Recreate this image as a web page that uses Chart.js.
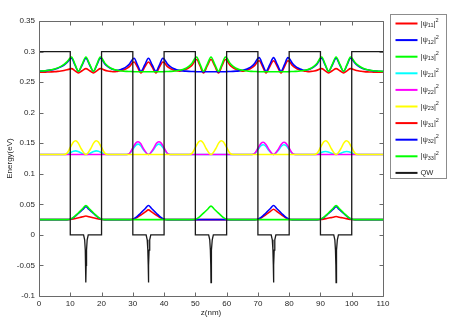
<!DOCTYPE html>
<html>
<head>
<meta charset="utf-8">
<script src="https://cdn.jsdelivr.net/npm/chart.js@4.4.0/dist/chart.umd.min.js"></script>
<style>
  html, body { margin: 0; padding: 0; background: #fff; }
  #wrap { width: 459px; height: 326px; }
</style>
</head>
<body>
<div id="wrap"><canvas id="psiChart" width="459" height="326"></canvas></div>
<script>
// axis ticks
const xTicks = [0, 10, 20, 30, 40, 50, 60, 70, 80, 90, 100, 110];
const xTickLabels = ['0', '10', '20', '30', '40', '50', '60', '70', '80', '90', '100', '110'];
const yTicks = [-0.1, -0.05, 0, 0.05, 0.1, 0.15, 0.2, 0.25, 0.3, 0.35];
const yTickLabels = ['-0.1', '-0.05', '0', '0.05', '0.1', '0.15', '0.2', '0.25', '0.3', '0.35'];

// legend names (subscripts of psi), last one is the potential
const stateSubs = ['11', '12', '13', '21', '22', '23', '31', '32', '33'];

// ground level z grid (nm)
const zLevel1 = [0,
  9, 10, 11, 12, 13, 14, 15, 16, 17, 18, 19, 20, 21,
  29, 30, 31, 32, 33, 34, 35, 36, 37, 38, 39, 40, 41,
  49, 50, 51, 52, 53, 54, 55, 56, 57, 58, 59, 60, 61,
  69, 70, 71, 72, 73, 74, 75, 76, 77, 78, 79, 80, 81,
  89, 90, 91, 92, 93, 94, 95, 96, 97, 98, 99, 100, 101,
  110];
const psi11 = [0.025,
  0.025, 0.0252, 0.0259, 0.0271, 0.0284, 0.0297, 0.031, 0.0297, 0.0284, 0.0271, 0.0259, 0.0252, 0.025,
  0.025, 0.0255, 0.0274, 0.0306, 0.0341, 0.0376, 0.041, 0.0376, 0.0341, 0.0306, 0.0274, 0.0255, 0.025,
  0.025, 0.025, 0.025, 0.025, 0.025, 0.025, 0.025, 0.025, 0.025, 0.025, 0.025, 0.025, 0.025,
  0.025, 0.0255, 0.0276, 0.031, 0.0347, 0.0384, 0.042, 0.0384, 0.0347, 0.031, 0.0276, 0.0255, 0.025,
  0.025, 0.0252, 0.0258, 0.0268, 0.0279, 0.029, 0.03, 0.029, 0.0279, 0.0268, 0.0258, 0.0252, 0.025,
  0.025];
const psi12 = [0.025,
  0.025, 0.0256, 0.0282, 0.0324, 0.037, 0.0416, 0.046, 0.0416, 0.037, 0.0324, 0.0282, 0.0256, 0.025,
  0.025, 0.0257, 0.0285, 0.0331, 0.0381, 0.0432, 0.048, 0.0432, 0.0381, 0.0331, 0.0285, 0.0257, 0.025,
  0.025, 0.025, 0.025, 0.025, 0.025, 0.025, 0.025, 0.025, 0.025, 0.025, 0.025, 0.025, 0.025,
  0.025, 0.0257, 0.0285, 0.0331, 0.0381, 0.0432, 0.048, 0.0432, 0.0381, 0.0331, 0.0285, 0.0257, 0.025,
  0.025, 0.0256, 0.0282, 0.0324, 0.037, 0.0416, 0.046, 0.0416, 0.037, 0.0324, 0.0282, 0.0256, 0.025,
  0.025];
const psi13 = [0.025,
  0.025, 0.0257, 0.0285, 0.0331, 0.0381, 0.0432, 0.048, 0.0432, 0.0381, 0.0331, 0.0285, 0.0257, 0.025,
  0.025, 0.025, 0.025, 0.025, 0.025, 0.025, 0.025, 0.025, 0.025, 0.025, 0.025, 0.025, 0.025,
  0.025, 0.0257, 0.0283, 0.0327, 0.0375, 0.0424, 0.047, 0.0424, 0.0375, 0.0327, 0.0283, 0.0257, 0.025,
  0.025, 0.025, 0.025, 0.025, 0.025, 0.025, 0.025, 0.025, 0.025, 0.025, 0.025, 0.025, 0.025,
  0.025, 0.0257, 0.0285, 0.0331, 0.0381, 0.0432, 0.048, 0.0432, 0.0381, 0.0331, 0.0285, 0.0257, 0.025,
  0.025];

// second level
const zLevel2 = [0,
  8, 9, 10, 11, 11.7, 12.5, 13.5, 15, 16.5, 17.5, 18.3, 19, 20, 21, 22,
  28, 29, 30, 31, 31.7, 32.5, 33.5, 35, 36.5, 37.5, 38.3, 39, 40, 41, 42,
  48, 49, 50, 51, 51.7, 52.5, 53.5, 55, 56.5, 57.5, 58.3, 59, 60, 61, 62,
  68, 69, 70, 71, 71.7, 72.5, 73.5, 75, 76.5, 77.5, 78.3, 79, 80, 81, 82,
  88, 89, 90, 91, 91.7, 92.5, 93.5, 95, 96.5, 97.5, 98.3, 99, 100, 101, 102,
  110];
const psi21 = [0.1315,
  0.1315, 0.1321, 0.1346, 0.1369, 0.1375, 0.1366, 0.134, 0.1315, 0.134, 0.1366, 0.1375, 0.1369, 0.1346, 0.1321, 0.1315,
  0.1315, 0.1333, 0.1402, 0.1469, 0.1485, 0.146, 0.1386, 0.1315, 0.1386, 0.146, 0.1485, 0.1469, 0.1402, 0.1333, 0.1315,
  0.1315, 0.1315, 0.1315, 0.1315, 0.1315, 0.1315, 0.1315, 0.1315, 0.1315, 0.1315, 0.1315, 0.1315, 0.1315, 0.1315, 0.1315,
  0.1315, 0.1332, 0.1397, 0.146, 0.1475, 0.1451, 0.1382, 0.1315, 0.1382, 0.1451, 0.1475, 0.146, 0.1397, 0.1332, 0.1315,
  0.1315, 0.132, 0.1341, 0.136, 0.1365, 0.1358, 0.1336, 0.1315, 0.1336, 0.1358, 0.1365, 0.136, 0.1341, 0.132, 0.1315,
  0.1315];
const psi22 = [0.1315,
  0.1315, 0.1315, 0.1315, 0.1315, 0.1315, 0.1315, 0.1315, 0.1315, 0.1315, 0.1315, 0.1315, 0.1315, 0.1315, 0.1315, 0.1315,
  0.1315, 0.1337, 0.1422, 0.1506, 0.1525, 0.1494, 0.1402, 0.1315, 0.1402, 0.1494, 0.1525, 0.1506, 0.1422, 0.1337, 0.1315,
  0.1315, 0.1315, 0.1315, 0.1315, 0.1315, 0.1315, 0.1315, 0.1315, 0.1315, 0.1315, 0.1315, 0.1315, 0.1315, 0.1315, 0.1315,
  0.1315, 0.1336, 0.1417, 0.1497, 0.1515, 0.1485, 0.1398, 0.1315, 0.1398, 0.1485, 0.1515, 0.1497, 0.1417, 0.1336, 0.1315,
  0.1315, 0.1315, 0.1315, 0.1315, 0.1315, 0.1315, 0.1315, 0.1315, 0.1315, 0.1315, 0.1315, 0.1315, 0.1315, 0.1315, 0.1315,
  0.1315];
const psi23 = [0.1315,
  0.1315, 0.1338, 0.143, 0.1519, 0.154, 0.1506, 0.1409, 0.1315, 0.1409, 0.1506, 0.154, 0.1519, 0.143, 0.1338, 0.1315,
  0.1315, 0.1315, 0.1315, 0.1315, 0.1315, 0.1315, 0.1315, 0.1315, 0.1315, 0.1315, 0.1315, 0.1315, 0.1315, 0.1315, 0.1315,
  0.1315, 0.1338, 0.143, 0.1519, 0.154, 0.1506, 0.1409, 0.1315, 0.1409, 0.1506, 0.154, 0.1519, 0.143, 0.1338, 0.1315,
  0.1315, 0.1315, 0.1315, 0.1315, 0.1315, 0.1315, 0.1315, 0.1315, 0.1315, 0.1315, 0.1315, 0.1315, 0.1315, 0.1315, 0.1315,
  0.1315, 0.1338, 0.143, 0.1519, 0.154, 0.1506, 0.1409, 0.1315, 0.1409, 0.1506, 0.154, 0.1519, 0.143, 0.1338, 0.1315,
  0.1315];

// third level (close to barrier top, tails leak into barriers)
const zLevel3 = [0, 1, 2, 3, 4, 5, 6, 7, 8, 9,
  10, 10.4, 11.5, 12.6, 13.8, 15, 16.2, 17.4, 18.5, 19.6,
  20, 21, 22, 23, 24, 25, 26, 27, 28, 29,
  30, 30.4, 31.5, 32.6, 33.8, 35, 36.2, 37.4, 38.5, 39.6,
  40, 41, 42, 43, 44, 45, 46, 47, 48, 49,
  50, 50.4, 51.5, 52.6, 53.8, 55, 56.2, 57.4, 58.5, 59.6,
  60, 61, 62, 63, 64, 65, 66, 67, 68, 69,
  70, 70.4, 71.5, 72.6, 73.8, 75, 76.2, 77.4, 78.5, 79.6,
  80, 81, 82, 83, 84, 85, 86, 87, 88, 89,
  90, 90.4, 91.5, 92.6, 93.8, 95, 96.2, 97.4, 98.5, 99.6,
  100, 101, 102, 103, 104, 105, 106, 107, 108, 109, 110];
const psi31 = [0.2662, 0.2663, 0.2664, 0.2666, 0.2668, 0.2671, 0.2676, 0.2682, 0.269, 0.2701,
  0.2717, 0.272, 0.2685, 0.265, 0.2685, 0.272, 0.2685, 0.265, 0.2685, 0.272,
  0.2717, 0.2696, 0.2683, 0.2675, 0.267, 0.2676, 0.2685, 0.2699, 0.2722, 0.2757,
  0.2822, 0.283, 0.2745, 0.265, 0.2745, 0.283, 0.2745, 0.265, 0.2745, 0.283,
  0.2822, 0.2757, 0.2722, 0.2699, 0.2685, 0.268, 0.2691, 0.2709, 0.2737, 0.278,
  0.286, 0.287, 0.2765, 0.265, 0.2765, 0.287, 0.2765, 0.265, 0.2765, 0.287,
  0.286, 0.278, 0.2737, 0.2709, 0.2691, 0.268, 0.2689, 0.2706, 0.2733, 0.2774,
  0.2841, 0.285, 0.2755, 0.265, 0.2755, 0.285, 0.2755, 0.265, 0.2755, 0.285,
  0.2841, 0.2774, 0.2733, 0.2706, 0.2689, 0.2679, 0.2672, 0.2675, 0.2683, 0.2696,
  0.2717, 0.272, 0.2685, 0.265, 0.2685, 0.272, 0.2685, 0.265, 0.2685, 0.272,
  0.2717, 0.2699, 0.2686, 0.2678, 0.2672, 0.2668, 0.2666, 0.2664, 0.2663, 0.2662, 0.2661];
const psi32 = [0.2678, 0.2682, 0.2686, 0.2692, 0.27, 0.2712, 0.2728, 0.2749, 0.278, 0.2821,
  0.2879, 0.289, 0.278, 0.2677, 0.278, 0.289, 0.278, 0.2677, 0.278, 0.289,
  0.2879, 0.2802, 0.2755, 0.2724, 0.2704, 0.2692, 0.2704, 0.2724, 0.2755, 0.2802,
  0.2879, 0.289, 0.278, 0.2677, 0.278, 0.289, 0.278, 0.2677, 0.278, 0.289,
  0.2879, 0.2802, 0.2755, 0.2724, 0.2704, 0.2692, 0.2684, 0.2679, 0.2676, 0.2674,
  0.2672, 0.267, 0.267, 0.267, 0.267, 0.267, 0.267, 0.267, 0.267, 0.267,
  0.2672, 0.2674, 0.2676, 0.2679, 0.2684, 0.2693, 0.2705, 0.2726, 0.2758, 0.2809,
  0.2889, 0.29, 0.2785, 0.2677, 0.2785, 0.29, 0.2785, 0.2677, 0.2785, 0.29,
  0.2889, 0.2809, 0.2758, 0.2726, 0.2705, 0.2693, 0.2704, 0.2724, 0.2755, 0.2802,
  0.2879, 0.289, 0.278, 0.2677, 0.278, 0.289, 0.278, 0.2677, 0.278, 0.289,
  0.2879, 0.2812, 0.2767, 0.2736, 0.2715, 0.2701, 0.2691, 0.2684, 0.268, 0.2677, 0.2674];
const psi33 = [0.2679, 0.2683, 0.2687, 0.2694, 0.2703, 0.2715, 0.2733, 0.2757, 0.279, 0.2835,
  0.2898, 0.291, 0.279, 0.2677, 0.279, 0.291, 0.279, 0.2677, 0.279, 0.291,
  0.2898, 0.2815, 0.2762, 0.2728, 0.2707, 0.2694, 0.2685, 0.2679, 0.2676, 0.2674,
  0.2672, 0.267, 0.267, 0.267, 0.267, 0.267, 0.267, 0.267, 0.267, 0.267,
  0.2672, 0.2674, 0.2676, 0.2679, 0.2685, 0.2694, 0.2707, 0.2728, 0.2762, 0.2815,
  0.2898, 0.291, 0.279, 0.2677, 0.279, 0.291, 0.279, 0.2677, 0.279, 0.291,
  0.2898, 0.2815, 0.2762, 0.2728, 0.2707, 0.2694, 0.2685, 0.2679, 0.2676, 0.2674,
  0.2672, 0.267, 0.267, 0.267, 0.267, 0.267, 0.267, 0.267, 0.267, 0.267,
  0.2672, 0.2674, 0.2676, 0.2679, 0.2685, 0.2694, 0.2707, 0.2728, 0.2762, 0.2815,
  0.2898, 0.291, 0.279, 0.2677, 0.279, 0.291, 0.279, 0.2677, 0.279, 0.291,
  0.2898, 0.2825, 0.2776, 0.2742, 0.2719, 0.2703, 0.2693, 0.2686, 0.2681, 0.2677, 0.2675];

// quantum well potential with the delta-like dip in the middle of each well
const zQW = [0,
  10, 10, 14.25, 14.6, 14.8, 14.93, 15, 15.07, 15.2, 15.4, 15.75, 20, 20,
  30, 30, 34.25, 34.6, 34.8, 34.93, 35, 35.07, 35.2, 35.4, 35.75, 40, 40,
  50, 50, 54.25, 54.6, 54.8, 54.93, 55, 55.07, 55.2, 55.4, 55.75, 60, 60,
  70, 70, 74.25, 74.6, 74.8, 74.93, 75, 75.07, 75.2, 75.4, 75.75, 80, 80,
  90, 90, 94.25, 94.6, 94.8, 94.93, 95, 95.07, 95.2, 95.4, 95.75, 100, 100,
  110];
const qw = [0.3,
  0.3, 0, 0, -0.008, -0.025, -0.05, -0.078, -0.05, -0.025, -0.008, 0, 0, 0.3,
  0.3, 0, 0, -0.008, -0.025, -0.05, -0.078, -0.05, -0.025, -0.008, 0, 0, 0.3,
  0.3, 0, 0, -0.008, -0.025, -0.05, -0.078, -0.05, -0.025, -0.008, 0, 0, 0.3,
  0.3, 0, 0, -0.008, -0.025, -0.05, -0.078, -0.05, -0.025, -0.008, 0, 0, 0.3,
  0.3, 0, 0, -0.008, -0.025, -0.05, -0.078, -0.05, -0.025, -0.008, 0, 0, 0.3,
  0.3];

const FONT = '"Liberation Sans", Arial, Helvetica, sans-serif';
const TEXT_COLOR = '#262626';

function pairUp(zs, vals) {
  return zs.map((z, i) => ({ x: z, y: vals[i] }));
}

// same colours as matlab's default cycle used in the figure
const lineColors = ['#ff0000', '#0000ff', '#00ff00', '#00ffff', '#ff00ff', '#ffff00', '#ff0000', '#0000ff', '#00ff00'];
const grids = [zLevel1, zLevel1, zLevel1, zLevel2, zLevel2, zLevel2, zLevel3, zLevel3, zLevel3];
const values = [psi11, psi12, psi13, psi21, psi22, psi23, psi31, psi32, psi33];

const datasets = stateSubs.map((sub, i) => ({
  label: '|ψ' + sub + '|²',
  sub: sub,
  data: pairUp(grids[i], values[i]),
  borderColor: lineColors[i],
  borderWidth: 1.6,
  pointRadius: 0,
  cubicInterpolationMode: 'monotone',
  order: 9 - i
}));
datasets.push({
  label: 'QW',
  sub: null,
  data: pairUp(zQW, qw),
  borderColor: '#1a1a1a',
  borderWidth: 1.3,
  pointRadius: 0,
  tension: 0,
  order: 0
});

// box, inward ticks and the boxed legend like the matlab figure
const matlabFrame = {
  id: 'matlabFrame',
  afterDatasetsDraw(chart) {
    const { ctx, chartArea: a, scales } = chart;
    const L = Math.round(a.left) + 0.5, R = Math.round(a.right) + 0.5;
    const T = Math.round(a.top) + 0.5, B = Math.round(a.bottom) + 0.5;
    ctx.save();
    ctx.strokeStyle = '#6a6a6a';
    ctx.lineWidth = 1;
    ctx.beginPath();
    ctx.moveTo(L, T); ctx.lineTo(R, T); ctx.lineTo(R, B); ctx.lineTo(L, B); ctx.closePath();
    scales.x.ticks.forEach(t => {
      const px = Math.round(scales.x.getPixelForValue(t.value)) + 0.5;
      ctx.moveTo(px, B); ctx.lineTo(px, B - 4);
      ctx.moveTo(px, T); ctx.lineTo(px, T + 4);
    });
    scales.y.ticks.forEach(t => {
      const py = Math.round(scales.y.getPixelForValue(t.value)) + 0.5;
      ctx.moveTo(L, py); ctx.lineTo(L + 4, py);
      ctx.moveTo(R, py); ctx.lineTo(R - 4, py);
    });
    ctx.stroke();
    ctx.restore();
  },
  afterDraw(chart) {
    const ctx = chart.ctx;
    const bx = 390.5, by = 14.5, bw = 56, bh = 164;
    ctx.save();
    ctx.fillStyle = '#fff';
    ctx.fillRect(bx, by, bw, bh);
    ctx.strokeStyle = '#8c8c8c';
    ctx.lineWidth = 1;
    ctx.strokeRect(bx, by, bw, bh);
    chart.data.datasets.forEach((ds, i) => {
      const yy = by + 9 + i * 16.6;
      ctx.strokeStyle = ds.borderColor;
      ctx.lineWidth = 2;
      ctx.beginPath();
      ctx.moveTo(bx + 5, yy);
      ctx.lineTo(bx + 27, yy);
      ctx.stroke();
      ctx.fillStyle = TEXT_COLOR;
      ctx.textBaseline = 'middle';
      ctx.textAlign = 'left';
      let x = bx + 30;
      if (ds.sub) {
        ctx.font = '7.5px ' + FONT;
        ctx.fillText('|ψ', x, yy);
        x += ctx.measureText('|ψ').width;
        ctx.font = '5.5px ' + FONT;
        ctx.fillText(ds.sub, x, yy + 2.2);
        x += ctx.measureText(ds.sub).width;
        ctx.font = '7.5px ' + FONT;
        ctx.fillText('|', x, yy);
        x += ctx.measureText('|').width;
        ctx.font = '5.5px ' + FONT;
        ctx.fillText('2', x, yy - 3);
      } else {
        ctx.font = '7.5px ' + FONT;
        ctx.fillText(ds.label, x, yy);
      }
    });
    ctx.restore();
  }
};

const ctx = document.getElementById('psiChart').getContext('2d');
new Chart(ctx, {
  type: 'line',
  data: { datasets: datasets },
  plugins: [matlabFrame],
  options: {
    responsive: false,
    devicePixelRatio: 1,
    animation: false,
    layout: { padding: { left: 4, right: 76, top: 21, bottom: 4 } },
    plugins: {
      legend: { display: false },
      tooltip: { enabled: false }
    },
    scales: {
      x: {
        type: 'linear',
        min: 0,
        max: 110,
        afterBuildTicks: scale => { scale.ticks = xTicks.map(v => ({ value: v })); },
        afterFit: scale => { scale.height = 26; },
        grid: { display: false, drawTicks: false },
        border: { display: false },
        ticks: {
          padding: 3,
          maxRotation: 0,
          color: TEXT_COLOR,
          font: { family: FONT, size: 8 },
          callback: (v, i) => xTickLabels[i]
        },
        title: {
          display: true,
          text: 'z(nm)',
          color: TEXT_COLOR,
          font: { family: FONT, size: 8 },
          padding: { top: 0, bottom: 4 }
        }
      },
      y: {
        min: -0.1,
        max: 0.35,
        afterBuildTicks: scale => { scale.ticks = yTicks.map(v => ({ value: v })); },
        afterFit: scale => { scale.width = 35; },
        grid: { display: false, drawTicks: false },
        border: { display: false },
        ticks: {
          padding: 4,
          color: TEXT_COLOR,
          font: { family: FONT, size: 8 },
          callback: (v, i) => yTickLabels[i]
        },
        title: {
          display: true,
          text: 'Energy(eV)',
          color: TEXT_COLOR,
          font: { family: FONT, size: 8 },
          padding: { top: 1, bottom: 0 }
        }
      }
    }
  }
});
</script>
</body>
</html>
